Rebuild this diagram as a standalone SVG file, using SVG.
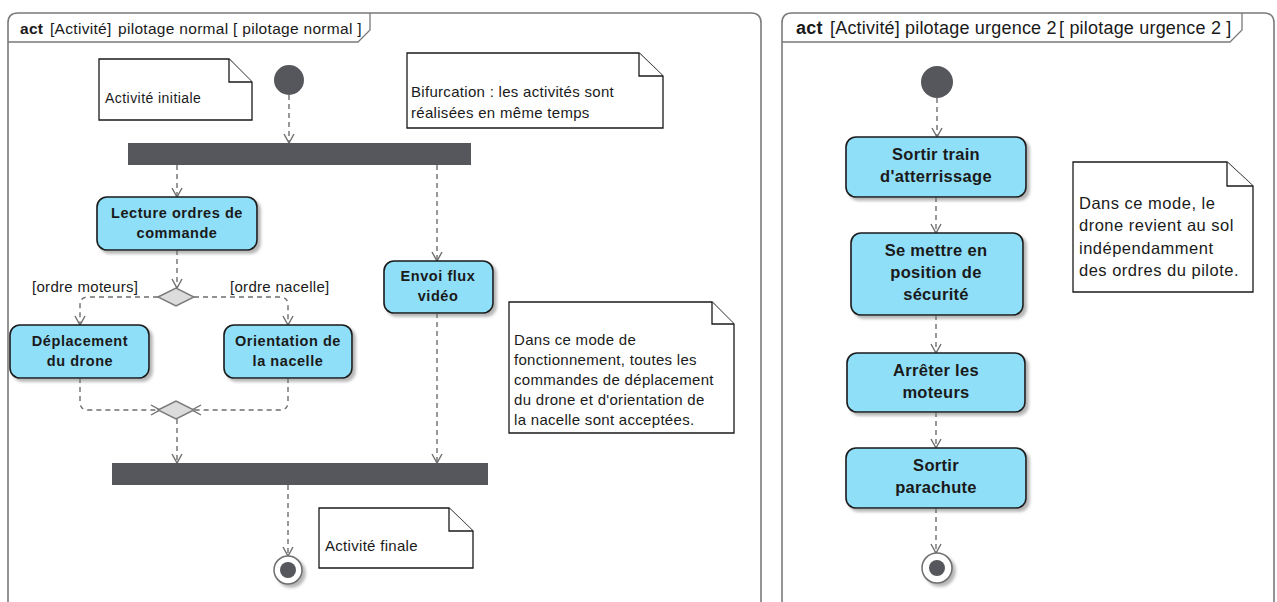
<svg xmlns="http://www.w3.org/2000/svg" width="1277" height="602" viewBox="0 0 1277 602">
  <style>
    text { font-family: "Liberation Sans", Arial, sans-serif; font-size: 15px; fill: #1a1a1a; letter-spacing: 0.3px; }
    .b { font-weight: bold; }
    .title { font-size: 15.5px; letter-spacing: 0.3px; }
    .title2 { font-size: 18px; letter-spacing: 0.2px; }
    .small { font-size: 14px; letter-spacing: 0.45px; }
    .big { font-size: 16.5px; letter-spacing: 0.5px; }
    .act { font-weight: bold; text-anchor: middle; font-size: 14.5px; letter-spacing: 0.55px; }
    .act2 { font-weight: bold; text-anchor: middle; font-size: 16.5px; letter-spacing: 0.3px; }
    .frame { fill: #ffffff; stroke: #7a7a7a; stroke-width: 1.6; }
    .tab { fill: none; stroke: #7a7a7a; stroke-width: 1.3; }
    .action { fill: #8fdff8; stroke: #1a1a1a; stroke-width: 1.6; filter: url(#shadow); }
    .note { fill: #ffffff; stroke: #1a1a1a; stroke-width: 1.3; }
    .bar { fill: #56575c; }
    .start { fill: #56575c; }
    .diamond { fill: #dcdcdc; stroke: #7a7a7a; stroke-width: 1.4; }
    .flow { fill: none; stroke: #6e6e6e; stroke-width: 1.4; stroke-dasharray: 5 4; marker-end: url(#arrow); }
  </style>
  <defs>
    <filter id="shadow" x="-10%" y="-10%" width="130%" height="140%">
      <feDropShadow dx="3" dy="3" stdDeviation="1.5" flood-color="#7a7a7a" flood-opacity="0.55"/>
    </filter>
    <marker id="arrow" viewBox="-10 -6 12 12" markerWidth="12" markerHeight="12" refX="0" refY="0" orient="auto" markerUnits="userSpaceOnUse">
      <path d="M-9,-5 L0,0 L-9,5" fill="none" stroke="#6e6e6e" stroke-width="1.4"/>
    </marker>
  </defs>

  <!-- Frame: pilotage normal -->
  <g id="frame-normal">
    <path class="frame" d="M8,612 V23 Q8,13 18,13 H751 Q761,13 761,23 V612"/>
    <path class="tab" d="M8,42 H358 L370,30 V13"/>
    <text class="title" x="20" y="34"><tspan class="b">act</tspan><tspan x="50">[Activité]</tspan><tspan x="118">pilotage normal</tspan><tspan x="233">[ pilotage normal ]</tspan></text>
  </g>

  <!-- Frame: pilotage urgence 2 -->
  <g id="frame-urgence">
    <path class="frame" d="M782,612 V23 Q782,13 792,13 H1264 Q1274,13 1274,23 V612"/>
    <path class="tab" d="M782,42 H1230 L1242,30 V13"/>
    <text class="title2" x="796" y="34"><tspan class="b">act</tspan><tspan x="830">[Activité]</tspan><tspan x="905">pilotage urgence 2</tspan><tspan x="1059">[ pilotage urgence 2 ]</tspan></text>
  </g>

  <!-- Connectors -->
  <g id="connectors">
    <!-- pilotage normal -->
    <path class="flow" d="M289,95 V143"/>
    <path class="flow" d="M177,165 V197"/>
    <path class="flow" d="M437,165 V261"/>
    <path class="flow" d="M177,250 V288"/>
    <path class="flow" d="M158,297 H88 Q80,297 80,305 V325"/>
    <path class="flow" d="M194,297 H280 Q288,297 288,305 V325"/>
    <path class="flow" d="M80,378 V402 Q80,410 88,410 H160"/>
    <path class="flow" d="M288,378 V402 Q288,410 280,410 H192"/>
    <path class="flow" d="M177,419 V463"/>
    <path class="flow" d="M437,313 V463"/>
    <path class="flow" d="M288,485 V556"/>
    <!-- pilotage urgence 2 -->
    <path class="flow" d="M937,98 V137"/>
    <path class="flow" d="M936,197 V233"/>
    <path class="flow" d="M936,315 V353"/>
    <path class="flow" d="M936,412 V448"/>
    <path class="flow" d="M936,508 V553"/>
  </g>

  <!-- Nodes: pilotage normal -->
  <g id="initial-normal"><circle class="start" cx="289" cy="80" r="15"/></g>

  <g id="note-initiale">
    <path class="note" d="M99,59 H229 L252,82 V120 H99 Z"/>
    <path class="note" d="M229,59 V82 H252" fill="none"/>
    <text class="small" x="105" y="103">Activité initiale</text>
  </g>

  <g id="note-bifurcation">
    <path class="note" d="M407,53 H639 L663,76 V128 H407 Z"/>
    <path class="note" d="M639,53 V76 H663" fill="none"/>
    <text x="411" y="97">Bifurcation : les activités sont</text>
    <text x="411" y="118">réalisées en même temps</text>
  </g>

  <g id="fork-1"><rect class="bar" x="128" y="143" width="343" height="22"/></g>

  <g id="lecture">
    <rect class="action" x="97" y="197" width="160" height="53" rx="10"/>
    <text class="act" x="177" y="218">Lecture ordres de</text>
    <text class="act" x="177" y="238">commande</text>
  </g>

  <g id="decision-1"><path class="diamond" d="M158,297 L176,288 L194,297 L176,306 Z"/></g>
  <text x="32" y="292">[ordre moteurs]</text>
  <text x="230" y="292">[ordre nacelle]</text>

  <g id="deplacement">
    <rect class="action" x="10" y="325" width="139" height="53" rx="10"/>
    <text class="act" x="80" y="346">Déplacement</text>
    <text class="act" x="80" y="366">du drone</text>
  </g>

  <g id="orientation">
    <rect class="action" x="224" y="325" width="128" height="53" rx="10"/>
    <text class="act" x="288" y="346">Orientation de</text>
    <text class="act" x="288" y="366">la nacelle</text>
  </g>

  <g id="merge-1"><path class="diamond" d="M158,410 L176,401 L194,410 L176,419 Z"/></g>

  <g id="envoi-video">
    <rect class="action" x="384" y="261" width="109" height="52" rx="10"/>
    <text class="act" x="438" y="281">Envoi flux</text>
    <text class="act" x="438" y="301">vidéo</text>
  </g>

  <g id="note-fonctionnement">
    <path class="note" d="M509,302 H712 L734,324 V433 H509 Z"/>
    <path class="note" d="M712,302 V324 H734" fill="none"/>
    <text x="514" y="345">Dans ce mode de</text>
    <text x="514" y="365">fonctionnement, toutes les</text>
    <text x="514" y="385">commandes de déplacement</text>
    <text x="514" y="405">du drone et d'orientation de</text>
    <text x="514" y="425">la nacelle sont acceptées.</text>
  </g>

  <g id="join-1"><rect class="bar" x="112" y="463" width="376" height="22"/></g>

  <g id="final-normal">
    <circle cx="288" cy="570" r="14" fill="#ffffff" stroke="#6e6e6e" stroke-width="1.5" filter="url(#shadow)"/>
    <circle class="start" cx="288" cy="570" r="8"/>
  </g>

  <g id="note-finale">
    <path class="note" d="M319,508 H449 L473,531 V568 H319 Z"/>
    <path class="note" d="M449,508 V531 H473" fill="none"/>
    <text x="325" y="551">Activité finale</text>
  </g>

  <!-- Nodes: pilotage urgence 2 -->
  <g id="initial-urgence"><circle class="start" cx="937" cy="82" r="16"/></g>

  <g id="sortir-train">
    <rect class="action" x="846" y="137" width="180" height="60" rx="10"/>
    <text class="act2" x="936" y="160">Sortir train</text>
    <text class="act2" x="936" y="182">d'atterrissage</text>
  </g>

  <g id="note-urgence">
    <path class="note" d="M1073,162 H1227 L1253,186 V292 H1073 Z"/>
    <path class="note" d="M1227,162 V186 H1253" fill="none"/>
    <text class="big" x="1079" y="209">Dans ce mode, le</text>
    <text class="big" x="1079" y="231">drone revient au sol</text>
    <text class="big" x="1079" y="254">indépendamment</text>
    <text class="big" x="1079" y="276">des ordres du pilote.</text>
  </g>

  <g id="position-securite">
    <rect class="action" x="851" y="233" width="172" height="82" rx="10"/>
    <text class="act2" x="936" y="256">Se mettre en</text>
    <text class="act2" x="936" y="278">position de</text>
    <text class="act2" x="936" y="300">sécurité</text>
  </g>

  <g id="arreter-moteurs">
    <rect class="action" x="847" y="353" width="178" height="59" rx="10"/>
    <text class="act2" x="936" y="376">Arrêter les</text>
    <text class="act2" x="936" y="398">moteurs</text>
  </g>

  <g id="sortir-parachute">
    <rect class="action" x="846" y="448" width="180" height="60" rx="10"/>
    <text class="act2" x="936" y="471">Sortir</text>
    <text class="act2" x="936" y="493">parachute</text>
  </g>

  <g id="final-urgence">
    <circle cx="937" cy="568" r="15" fill="#ffffff" stroke="#6e6e6e" stroke-width="1.5" filter="url(#shadow)"/>
    <circle class="start" cx="937" cy="568" r="8"/>
  </g>
</svg>
